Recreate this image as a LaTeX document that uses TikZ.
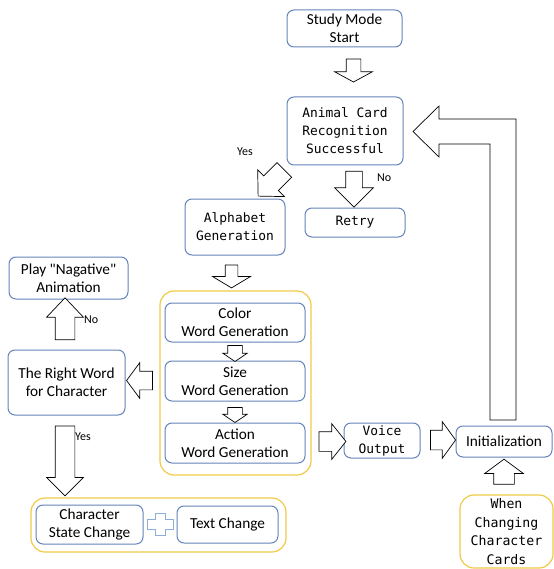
\documentclass[tikz,border=0pt]{standalone}
\usepackage{fontspec}
\setmainfont{Carlito}[Ligatures=TeXOff]
\newfontfamily\monofont{DejaVu Sans Mono}
\usetikzlibrary{shapes.arrows,calc}
\definecolor{boxblue}{RGB}{100,132,186}
\definecolor{grpyellow}{RGB}{240,202,72}
\definecolor{plusblue}{RGB}{140,175,215}

\begin{document}
\begin{tikzpicture}[
    x=1pt, y=-1pt,
    font=\fontsize{15.3}{18}\selectfont,
    blockbox/.style={draw=boxblue, fill=white, rectangle, rounded corners=7pt, line width=1pt, align=center, inner sep=0pt},
    monobox/.style={blockbox, font=\monofont\fontsize{12.9}{18}\selectfont},
    yellowbox/.style={draw=grpyellow, fill=white, rectangle, rounded corners=14pt, line width=1.2pt, align=center, inner sep=0pt},
    barrow/.style args={#1/#2/#3/#4}{single arrow, draw=black, fill=white, line width=0.7pt, inner sep=0pt, text height=#1, text depth=0pt, minimum width=#2, single arrow head extend={(#2-#1)/2}, minimum height=#3, single arrow tip angle=#4},
    lbl/.style={font=\fontsize{12}{13}\selectfont, anchor=west, inner sep=0pt}
]
    \useasboundingbox (0,0) rectangle (553,569);

    % top chain
    \node [blockbox, minimum width=115pt, minimum height=37pt] (start) at (344.5,28.5) {Study Mode\\Start};
    \node [monobox, minimum width=116pt, minimum height=68pt] (card) at (345,131) {Animal Card\\Recognition\\Successful};
    \node [monobox, minimum width=100pt, minimum height=29pt] (retry) at (355,222.5) {Retry};
    \node [monobox, minimum width=100pt, minimum height=56pt] (alpha) at (235,227) {Alphabet\\Generation};

    % word generation group
    \node [yellowbox, minimum width=151pt, minimum height=184pt] (words) at (235.5,383) {};
    \node [blockbox, minimum width=140pt, minimum height=39pt] (color) at (235,322.5) {Color\\Word Generation};
    \node [blockbox, minimum width=140pt, minimum height=40pt] (size) at (235,381) {Size\\Word Generation};
    \node [blockbox, minimum width=140pt, minimum height=40pt] (action) at (235,443) {Action\\Word Generation};

    % left column
    \node [blockbox, minimum width=117pt, minimum height=65pt] (right) at (66.5,382.5) {The Right Word\\for Character};
    \node [blockbox, minimum width=119pt, minimum height=42pt] (play) at (68.5,278) {Play "Nagative"\\Animation};
    \node [yellowbox, minimum width=255pt, minimum height=54pt] (change) at (158.5,525) {};
    \node [blockbox, minimum width=107pt, minimum height=39pt] (csc) at (89.5,524.5) {Character\\State Change};
    \node [blockbox, minimum width=101pt, minimum height=37pt] (txt) at (227.5,524.5) {Text Change};

    % right side
    \node [monobox, minimum width=76pt, minimum height=35pt] (voice) at (382,440.5) {Voice\\Output};
    \node [blockbox, minimum width=96pt, minimum height=31pt] (init) at (504,441.5) {Initialization};
    \node [yellowbox, font=\monofont\fontsize{13.2}{18.5}\selectfont, minimum width=93pt, minimum height=73pt] (cards) at (506.5,531.5) {When\\Changing\\Character\\Cards};

    % block arrows
    \node [barrow=14pt/37pt/23pt/123, rotate=270] (a1) at (353.5,68.5) {};
    \node [barrow=16pt/38pt/36pt/90, rotate=270] (a2) at (354,185) {};
    \node [barrow=20pt/37pt/37pt/92, rotate=225] (a3) at (274.75,179.5) {};
    \node [barrow=12pt/37pt/23pt/118, rotate=270] (a4) at (231.5,274.5) {};
    \node [barrow=14pt/24pt/16pt/112, rotate=270] (a5) at (235,351) {};
    \node [barrow=14pt/24pt/15pt/112, rotate=270] (a6) at (235,412.5) {};
    \node [barrow=18pt/35pt/26pt/107, rotate=180] (a7) at (143,380.5) {};
    \node [barrow=19pt/36pt/42pt/87, rotate=90] (a8) at (65,324) {};
    \node [barrow=19pt/36pt/70pt/90, rotate=270] (a9) at (65,456) {};
    \node [barrow=19pt/35pt/27pt/103] (a10) at (328.5,441.5) {};
    \node [barrow=19pt/36pt/25pt/108] (a11) at (439.5,440) {};
    \node [barrow=20pt/38pt/25pt/107, rotate=90] (a12) at (504,475.5) {};

    % feedback arrow back to recognition
    \draw [line width=0.7pt, fill=white] (490,420) -- (490,144) -- (439,144) -- (439,157) -- (413,131.5) -- (439,106) -- (439,119) -- (516,119) -- (516,420) -- cycle;

    % plus sign
    \coordinate (plus) at ($(csc.east)!0.5!(txt.west)$);
    \draw [draw=plusblue, line width=1pt, fill=white] (plus) ++(-5,-11) -- ++(10,0) -- ++(0,6) -- ++(8,0) -- ++(0,10) -- ++(-8,0) -- ++(0,6) -- ++(-10,0) -- ++(0,-6) -- ++(-8,0) -- ++(0,-10) -- ++(8,0) -- cycle;

    % branch labels
    \node [lbl] (no1) at (377,178) {No};
    \node [lbl] (yes1) at (237,152) {Yes};
    \node [lbl] (no2) at (84,320) {No};
    \node [lbl] (yes2) at (75,437) {Yes};

\end{tikzpicture}
\end{document}
